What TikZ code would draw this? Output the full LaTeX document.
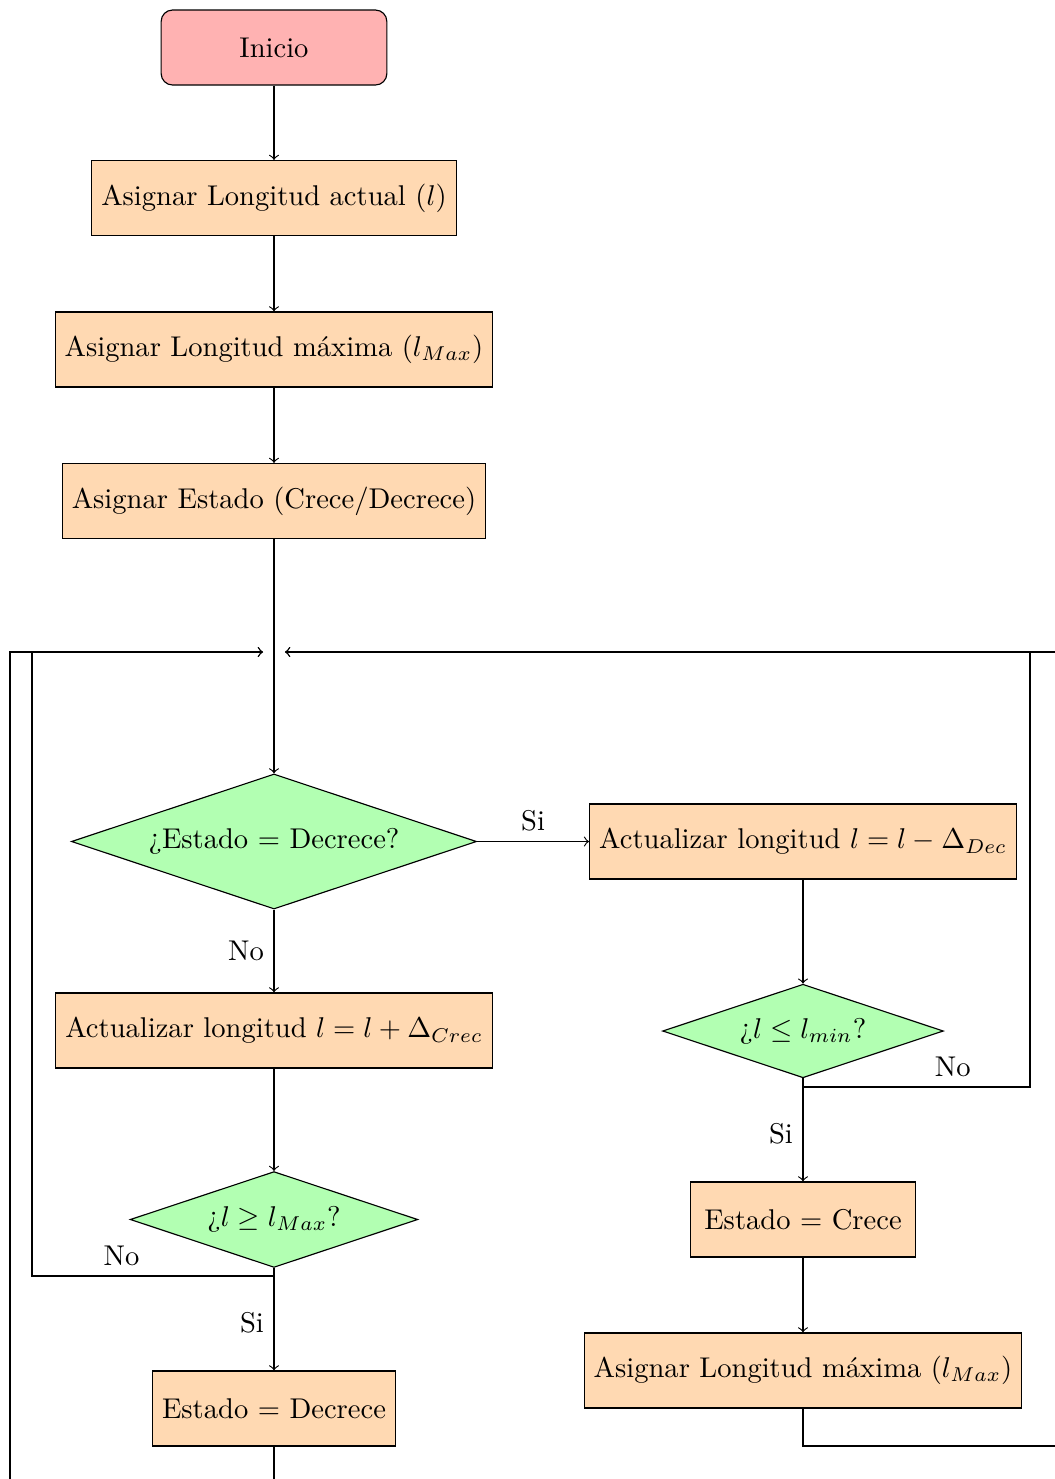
\documentclass[tikz,border=0pt]{standalone}
\usetikzlibrary{shapes.geometric}

\tikzset{
  inicio/.style={rectangle, rounded corners, draw, fill=red!30,
    minimum width=79pt, minimum height=26.25pt},
  proceso/.style={rectangle, draw, fill=orange!30,
    minimum width=79pt, minimum height=26.25pt},
  decision/.style={diamond, aspect=3, draw, fill=green!30},
  flecha/.style={->},
}

\begin{document}
\begin{tikzpicture}[x=0.35pt,y=-0.35pt]
\useasboundingbox (0,0) rectangle (1055,1479);
\clip (0,0) rectangle (1055,1479);

% columna izquierda
\node[inicio]  (ini)   at (274,47.5)   {Inicio};
\node[proceso] (lact)  at (274,198)    {Asignar Longitud actual ($l$)};
\node[proceso] (lmax)  at (274,349.5)  {Asignar Longitud máxima ($l_{Max}$)};
\node[proceso] (est)   at (274,501)    {Asignar Estado (Crece/Decrece)};
\node[decision](qdec)  at (274,841.5)  {¿Estado = Decrece?};
\node[proceso] (crec)  at (274,1030.5) {Actualizar longitud $l=l+\Delta_{Crec}$};
\node[decision](qmax)  at (274,1219.5) {¿$l \geq l_{Max}$?};
\node[proceso] (edec)  at (274,1408.5) {Estado = Decrece};

% columna derecha
\node[proceso] (decr)  at (803,841.5)  {Actualizar longitud $l=l-\Delta_{Dec}$};
\node[decision](qmin)  at (803,1031)   {¿$l \leq l_{min}$?};
\node[proceso] (ecre)  at (803,1219.5) {Estado = Crece};
\node[proceso] (lmax2) at (803,1370.5) {Asignar Longitud máxima ($l_{Max}$)};

\coordinate (izq) at (263,652);
\coordinate (der) at (285,652);
\coordinate (bmax) at (274,1276);
\coordinate (bmin) at (803,1087);

\draw[flecha] (ini) -- (lact);
\draw[flecha] (lact) -- (lmax);
\draw[flecha] (lmax) -- (est);
\draw[flecha] (est) -- (qdec);
\draw[flecha] (qdec) -- node[above] (si1) {Si} (decr);
\draw[flecha] (qdec) -- node[left] (no1) {No} (crec);
\draw[flecha] (crec) -- (qmax);
\draw (qmax) -- (bmax);
\draw[flecha] (bmax) -- node[left] (si2) {Si} (edec);
\draw[flecha] (bmax) -- node[above,pos=0.63] (no2) {No} (32,1276) -- (32,652) -- (izq);
\draw[flecha] (edec) -- (274,1500) -| (10,652) -- (izq);

\draw[flecha] (decr) -- (qmin);
\draw (qmin) -- (bmin);
\draw[flecha] (bmin) -- node[left] (si3) {Si} (ecre);
\draw[flecha] (bmin) -- node[above,pos=0.66] (no3) {No} (1030,1087) -- (1030,652) -- (der);
\draw[flecha] (ecre) -- (lmax2);
\draw[flecha] (lmax2) -- (803,1446) -| (1070,652) -- (der);
\end{tikzpicture}
\end{document}
